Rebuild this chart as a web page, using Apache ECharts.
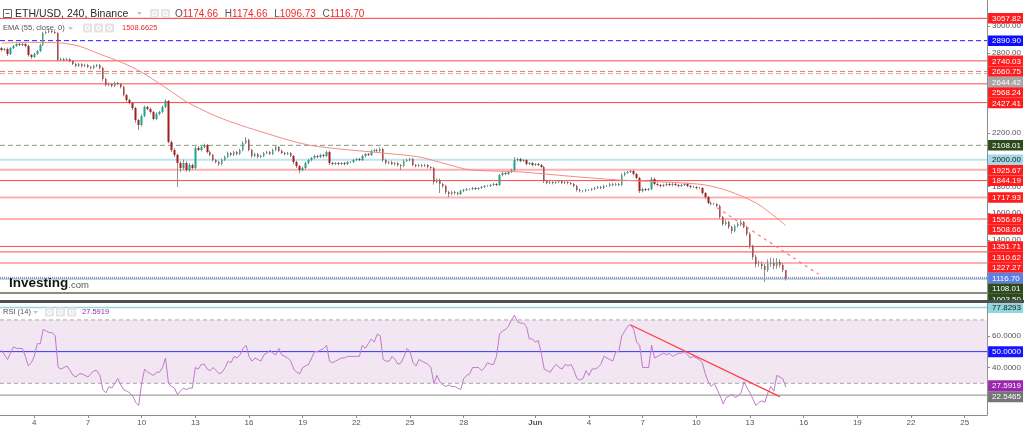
<!DOCTYPE html>
<html><head><meta charset="utf-8">
<script src="https://cdn.jsdelivr.net/npm/echarts@6/dist/echarts.min.js"></script>
<style>html,body{margin:0;padding:0;background:#fff}#c{width:1024px;height:428px}</style>
</head><body><div id="c"></div><script>
// ---------- DATA ----------
const closes = [2821,2828,2791,2836,2851,2866,2858,2866,2851,2784,
 2769,2791,2813,2858,2948,2956,2963,2956,2948,2746,
 2754,2746,2754,2739,2716,2701,2716,2701,2709,2694,
 2686,2701,2709,2686,2604,2559,2567,2552,2574,2567,
 2544,2484,2447,2425,2387,2297,2260,2327,2395,2380,
 2357,2305,2342,2357,2395,2440,2133,2073,2036,1976,
 1938,1976,1923,1961,1938,2088,2073,2095,2110,2058,
 2036,1998,1983,1968,1998,2021,2051,2036,2058,2043,
 2073,2125,2148,2073,2028,2043,2021,2028,2051,2058,
 2043,2073,2095,2066,2051,2043,2051,2028,1983,1953,
 1923,1938,1976,1998,2013,2028,2021,2036,2028,2058,
 1976,1968,1976,1968,1976,1968,1983,1983,1998,2006,
 1998,2028,2043,2036,2066,2073,2066,2081,1998,1976,
 1983,1968,1976,1961,1953,1991,1998,2006,1961,1953,
 1961,1953,1961,1946,1938,1834,1849,1819,1804,1759,
 1744,1759,1751,1744,1766,1774,1781,1781,1789,1781,
 1789,1796,1804,1804,1811,1819,1811,1886,1901,1894,
 1908,1923,1998,2006,1991,1998,1968,1976,1961,1968,
 1961,1946,1841,1826,1834,1826,1834,1841,1826,1834,
 1826,1819,1804,1774,1766,1766,1774,1774,1781,1789,
 1796,1789,1804,1804,1819,1811,1819,1811,1886,1901,
 1908,1916,1894,1864,1766,1781,1774,1781,1856,1819,
 1811,1804,1811,1819,1811,1819,1811,1804,1811,1819,
 1804,1796,1796,1789,1789,1751,1721,1677,1669,1669,
 1654,1572,1519,1534,1497,1467,1504,1519,1534,1497,
 1445,1355,1273,1220,1220,1205,1175,1220,1228,1205,
 1235,1213,1174.66,1116.70];
const firstOpen = 2836;
const upWick = [8,10,12,6,8,10,8,8,6,10,
 8,10,8,10,8,10,14,8,8,6,
 10,8,8,6,8,10,8,6,8,8,
 8,10,8,8,10,8,12,8,10,8,
 8,10,8,10,8,8,8,12,10,8,
 8,10,12,8,10,12,6,10,12,10,
 12,25,12,15,10,12,15,10,10,8,
 10,8,8,10,12,10,10,8,10,8,
 10,12,22,10,8,10,8,10,8,10,
 8,10,12,8,10,8,8,6,8,10,
 8,10,8,10,8,10,8,8,10,10,
 8,8,6,8,6,8,8,6,8,8,
 8,10,8,8,10,8,10,12,8,10,
 8,10,8,8,6,10,10,8,8,8,
 8,6,8,8,6,8,12,10,8,8,
 8,10,8,8,10,8,8,6,8,6,
 6,8,6,8,6,8,8,8,10,10,
 8,10,22,10,8,8,8,8,6,8,
 8,8,8,10,8,6,8,8,6,8,
 6,8,8,8,10,8,8,6,8,8,
 8,8,10,8,8,8,8,8,12,10,
 8,10,8,8,8,10,8,8,15,10,
 10,8,10,8,10,8,8,8,10,8,
 8,8,10,8,8,6,8,8,10,10,
 8,10,8,15,10,10,12,15,15,8,
 10,12,10,15,25,20,15,35,40,35,
 30,20,15,0];
const downWick = [10,8,15,8,8,6,8,8,10,12,
 15,8,8,8,6,8,8,10,8,10,
 8,10,8,10,8,10,8,10,8,8,
 8,8,10,10,15,10,8,10,8,10,
 10,10,12,10,15,20,37,10,8,10,
 12,10,8,10,8,8,10,15,15,180,
 30,15,12,15,12,10,8,10,8,10,
 10,12,10,15,10,8,8,10,8,10,
 8,10,8,10,12,8,10,8,8,10,
 8,8,8,10,8,10,8,8,15,15,
 25,10,8,8,10,8,10,8,10,8,
 15,10,8,10,8,10,8,8,8,8,
 8,8,10,8,8,10,8,8,15,10,
 10,8,10,12,30,8,8,10,10,10,
 8,10,8,10,8,20,10,68,12,15,
 23,10,12,10,8,8,8,10,8,8,
 8,8,8,6,8,8,8,8,10,8,
 8,8,8,10,10,8,10,8,10,8,
 8,10,15,10,8,10,8,10,8,8,
 10,8,10,12,10,10,8,8,8,8,
 8,10,8,8,8,10,8,8,8,10,
 8,8,10,10,15,10,10,8,8,10,
 10,10,8,10,8,10,8,10,8,8,
 10,10,8,10,10,12,15,10,10,8,
 10,15,15,10,15,20,10,10,15,10,
 15,20,20,25,20,25,89,15,20,25,
 20,20,15,19.97];
const rsiValues = [51,48,45,49,53,52,52,52,47,41,
 43,47,55,55,64,63,62,62,60,40,
 39,40,41,38,35,34,36,36,35,34,
 36,38,38,35,26,24,28,27,30,33,
 29,26,25,24,22,18,16,30,39,37,
 36,35,37,37,40,46,30,28,27,23,
 25,27,26,27,27,40,39,42,42,39,
 38,40,38,36,37,40,44,43,47,46,
 48,52,54,47,44,46,45,44,48,49,
 51,49,48,52,48,47,46,44,39,37,
 36,40,41,42,46,50,50,51,52,54,
 44,43,44,45,46,46,47,47,47,47,
 47,54,52,55,58,56,61,60,45,44,
 44,47,45,42,43,47,52,50,43,41,
 45,44,43,42,40,30,35,31,29,28,
 29,28,28,27,26,33,35,36,40,40,
 40,38,40,43,42,42,47,61,63,64,
 66,70,73,69,68,68,66,58,58,56,
 57,49,39,38,37,40,42,40,39,42,
 41,42,38,33,32,33,38,35,39,39,
 40,42,47,46,45,44,50,50,60,63,
 66,67,64,56,54,40,40,40,54,46,
 47,48,49,48,49,47,48,49,49,50,
 48,46,47,46,45,43,36,31,28,30,
 26,22,17,21,22,23,21,22,24,31,
 27,24,20,16,18,19,18,24,28,25,
 35,34,33,27.5919];
const emaIdx = [0,10,20,26,33,40,47,57,62,71,78,87,103,128,140,150,157,174,190,207,227,236,244,253,260,263];
const emaVal = [2873,2878,2873,2850,2790,2731,2655,2510,2435,2335,2275,2210,2110,2050,2021,1963,1925,1909,1878,1849,1828,1811,1765,1677,1564,1508.6625];
const priceLevels = [3057.82,2890.90,2740.03,2660.75,2644.42,2568.24,2427.41,2108.01,2000.00,1925.67,1844.19,1717.93,1556.69,1351.71,1310.62,1227.27,1108.01,1003.50];
const rsiLevels = [77.8293, 50.0000, 22.5465];
const rsiBand = [30, 70];
const priceTicks = [1000,1200,1400,1600,1800,2000,2200,2400,2600,2800,3000];
const rsiTicks = [40, 60];
const tickDates = ['2022-05-04','2022-05-07','2022-05-10','2022-05-13','2022-05-16','2022-05-19','2022-05-22','2022-05-25','2022-05-28','2022-06-01','2022-06-04','2022-06-07','2022-06-10','2022-06-13','2022-06-16','2022-06-19','2022-06-22','2022-06-25'];
const tickTexts = ['4','7','10','13','16','19','22','25','28','Jun','4','7','10','13','16','19','22','25'];
const priceTrend = [[240, 1641], [274, 1143]];
const rsiTrend = [[211, 66.8], [261, 21.6]];

// ---------- STYLES ----------
const FONT = '"Liberation Sans", Arial, sans-serif';
const RBG = '#ff1c1c';
const levelStyles = [
 {line:'#ff3535', w:1, bg:RBG},
 {line:'#2020ff', w:1, dash:[5,3], bg:'#0c0cff'},
 {line:'#ff8585', w:1.5, bg:RBG},
 {line:'#ff6b6b', w:1, dash:[5,3], bg:RBG},
 {line:'#c9a9a9', w:1, dash:[5,3], bg:'#a6a6a6'},
 {line:'#ff8585', w:1.5, bg:RBG},
 {line:'#ff4343', w:1, bg:RBG},
 {line:'#8c9a7b', w:1, dash:[5,3], bg:'#2c4a1c'},
 {line:'#bfe4ee', w:2, bg:'#a3d8e6', fg:'#1a1a1a'},
 {line:'#ffb0b0', w:2, bg:RBG},
 {line:'#ff4a4a', w:1, bg:RBG},
 {line:'#ffb0b0', w:2, bg:RBG},
 {line:'#ffb0b0', w:2, bg:RBG},
 {line:'#ff4a4a', w:1, bg:RBG},
 {line:'#ff4a4a', w:1, bg:RBG},
 {line:'#ffb0b0', w:2, bg:RBG},
 {line:'#9aa98a', w:1, bg:'#2c4a1c'},
 {line:'#5e6e48', w:1.5, bg:'#2c4a1c'}
];
const rsiStyles = [
 {line:'#93d6e1', w:1.5, bg:'#91d5df', fg:'#1a1a1a'},
 {line:'#3030ff', w:1, bg:'#1414ff'},
 {line:'#8a8a8a', w:1, bg:'#757575'}
];

// ---------- DERIVED ----------
const N = closes.length;
const opens = closes.map((c, i) => i === 0 ? firstOpen : closes[i - 1]);
const highs = closes.map((c, i) => Math.max(opens[i], c) + upWick[i]);
const lows = closes.map((c, i) => Math.min(opens[i], c) - downWick[i]);
const wickData = closes.map((c, i) => [opens[i], c, lows[i], highs[i]]);
const bodyData = closes.map((c, i) => [opens[i], c, Math.min(opens[i], c), Math.max(opens[i], c)]);
const emaData = emaIdx.map((ix, k) => [ix, emaVal[k]]);
const emaLast = emaVal[emaVal.length - 1];
const rsiLast = rsiValues[rsiValues.length - 1];

const startUTC = Date.UTC(2022, 4, 2, 4);
const slotCount = 331;
const categories = Array.from({length: slotCount}, (_, k) => new Date(startUTC + k * 4 * 3600e3).toISOString().slice(0, 13));
const tickMap = new Map(tickDates.map((d, k) => [d + 'T00', tickTexts[k]]));

const mainItems = priceLevels.map((v, k) => ({v, s: levelStyles[k]}))
  .concat([{v: emaLast, s: {bg: RBG}}, {v: closes[N - 1], s: {line: '#7d98e8', w: 2, dash: [1, 1], bg: '#5b7fe3'}}]);
const rsiItems = rsiLevels.map((v, k) => ({v, s: rsiStyles[k]}))
  .concat([{v: rsiLast, s: {bg: '#9b27b0'}}]);

function layoutLabels(ys, gap, mode) {
  const order = ys.map((y, i) => i).sort((a, b) => ys[a] - ys[b]);
  const pos = ys.slice();
  if (mode === 'down') {
    let last = -Infinity;
    order.forEach(i => { const p = Math.max(ys[i], last + gap); pos[i] = p; last = p; });
  } else {
    for (let it = 0; it < 30; it++) {
      for (let k = 1; k < order.length; k++) {
        const a = order[k - 1], b = order[k];
        const d = pos[b] - pos[a];
        if (d < gap) { const m = (gap - d) / 2; pos[a] -= m; pos[b] += m; }
      }
    }
  }
  return pos;
}

function levelSeries(items, axisIdx, gap, mode, decimals) {
  return {
    type: 'custom', xAxisIndex: axisIdx, yAxisIndex: axisIdx, clip: false, silent: true, z: 1,
    data: items.map(it => [0, it.v]),
    renderItem(params, api) {
      const cs = params.coordSys;
      const ys = items.map(it => api.coord([0, it.v])[1]);
      const pos = layoutLabels(ys, gap, mode);
      const i = params.dataIndex, it = items[i], y = ys[i], ly = pos[i];
      const right = cs.x + cs.width;
      const children = [];
      if (it.s.line) children.push({type: 'line', shape: {x1: cs.x, y1: y, x2: right, y2: y},
        style: {stroke: it.s.line, lineWidth: it.s.w || 1, lineDash: it.s.dash || null}});
      children.push({type: 'group',
        clipPath: {type: 'rect', shape: {x: right, y: cs.y, width: 1024 - right, height: cs.height}},
        children: [
          {type: 'rect', shape: {x: right + 1, y: ly - gap / 2, width: 1023 - right - 1, height: gap}, style: {fill: it.s.bg}},
          {type: 'text', style: {x: right + 5, y: ly + 0.5, text: it.v.toFixed(decimals), fill: it.s.fg || '#fff',
            fontSize: 8, fontFamily: FONT, align: 'left', verticalAlign: 'middle', textAlign: 'left', textVerticalAlign: 'middle'}}
        ]});
      return {type: 'group', children};
    }
  };
}

function icons(x0, y0, n) {
  const out = [];
  for (let k = 0; k < n; k++) {
    const x = x0 + k * 11;
    out.push({type: 'rect', shape: {x, y: y0, width: 9, height: 9, r: 1}, style: {fill: '#e4e4e4'}, z: 100});
    out.push({type: 'circle', shape: {cx: x + 4.5, cy: y0 + 4.5, r: 2}, style: {fill: 'none', stroke: '#fff', lineWidth: 1.2}, z: 101});
  }
  return out;
}
function caret(x, y) {
  return {type: 'polygon', shape: {points: [[x, y], [x + 5, y], [x + 2.5, y + 3]]}, style: {fill: '#c4c4c4'}, z: 100};
}

const chart = echarts.init(document.getElementById('c'), null, {renderer: 'canvas'});
const axisGray = '#8c8c8c';
chart.setOption({
  animation: false,
  backgroundColor: '#ffffff',
  grid: [
    {left: 0, right: 36, top: 0, height: 300},
    {left: 0, right: 36, top: 303, height: 112}
  ],
  xAxis: [
    {type: 'category', gridIndex: 0, data: categories, show: false, boundaryGap: true},
    {type: 'category', gridIndex: 1, data: categories, boundaryGap: true,
      axisLine: {show: true, lineStyle: {color: axisGray}},
      axisTick: {show: true, alignWithLabel: true, length: 3, interval: (i, v) => tickMap.has(v), lineStyle: {color: axisGray}},
      axisLabel: {interval: (i, v) => tickMap.has(v), margin: 4, fontSize: 8, color: '#555', fontFamily: FONT,
        formatter: v => { const t = tickMap.get(v) || ''; return t === 'Jun' ? '{m|Jun}' : t; },
        rich: {m: {fontWeight: 'bold', fontSize: 8, color: '#555', fontFamily: FONT}}},
      splitLine: {show: false}}
  ],
  yAxis: [
    {type: 'value', gridIndex: 0, position: 'right', min: 951, max: 3195,
      axisLine: {show: true, lineStyle: {color: axisGray}},
      axisTick: {show: true, length: 3, customValues: priceTicks, lineStyle: {color: axisGray}},
      axisLabel: {customValues: priceTicks, formatter: v => v.toFixed(2), fontSize: 8, color: '#555', margin: 5, fontFamily: FONT},
      splitLine: {show: false}},
    {type: 'value', gridIndex: 1, position: 'right', min: 10, max: 80.7,
      axisLine: {show: true, lineStyle: {color: axisGray}},
      axisTick: {show: true, length: 3, customValues: rsiTicks, lineStyle: {color: axisGray}},
      axisLabel: {customValues: rsiTicks, formatter: v => v.toFixed(4), fontSize: 8, color: '#555', margin: 5, fontFamily: FONT},
      splitLine: {show: false}}
  ],
  series: [
    levelSeries(mainItems, 0, 10.5, 'down', 2),
    {type: 'candlestick', xAxisIndex: 0, yAxisIndex: 0, data: wickData, barWidth: 1, silent: true,
      itemStyle: {color: '#8f8f8f', color0: '#8f8f8f', borderColor: '#8f8f8f', borderColor0: '#8f8f8f', borderWidth: 1}},
    {type: 'candlestick', xAxisIndex: 0, yAxisIndex: 0, data: bodyData, barWidth: 2, silent: true,
      itemStyle: {color: '#23a38b', color0: '#a51d1d', borderColor: '#23a38b', borderColor0: '#a51d1d', borderWidth: 0}},
    {type: 'line', xAxisIndex: 0, yAxisIndex: 0, data: emaData, showSymbol: false, smooth: 0.3, silent: true,
      lineStyle: {color: '#f58a8a', width: 1},
      markLine: {silent: true, symbol: 'none', label: {show: false},
        data: [[{coord: priceTrend[0]}, {coord: priceTrend[1]}]],
        lineStyle: {color: '#ff7474', width: 1.2, type: [3, 4]}}},
    {type: 'custom', xAxisIndex: 1, yAxisIndex: 1, silent: true, z: 1, clip: false, data: [[0, 50]],
      renderItem(params, api) {
        const cs = params.coordSys;
        const yTop = api.coord([0, rsiBand[1]])[1], yBot = api.coord([0, rsiBand[0]])[1];
        return {type: 'group', children: [
          {type: 'rect', shape: {x: cs.x, y: yTop, width: cs.width, height: yBot - yTop}, style: {fill: '#f3e6f3'}},
          {type: 'line', shape: {x1: cs.x, y1: yTop, x2: cs.x + cs.width, y2: yTop}, style: {stroke: '#a8a8a8', lineWidth: 1, lineDash: [4, 3]}},
          {type: 'line', shape: {x1: cs.x, y1: yBot, x2: cs.x + cs.width, y2: yBot}, style: {stroke: '#a8a8a8', lineWidth: 1, lineDash: [4, 3]}}
        ]};
      }},
    levelSeries(rsiItems, 1, 11, 'spread', 4),
    {type: 'line', xAxisIndex: 1, yAxisIndex: 1, data: rsiValues, showSymbol: false, silent: true,
      lineStyle: {color: '#c079cb', width: 1},
      markLine: {silent: true, symbol: 'none', label: {show: false},
        data: [[{coord: rsiTrend[0]}, {coord: rsiTrend[1]}]],
        lineStyle: {color: '#ff3b3b', width: 1.2, type: 'solid'}}}
  ],
  graphic: [
    {type: 'rect', shape: {x: 0, y: 300, width: 1024, height: 3}, style: {fill: '#4f4f4f'}, z: 100},
    {type: 'rect', shape: {x: 3.5, y: 9.5, width: 8, height: 8}, style: {fill: '#fff', stroke: '#666', lineWidth: 1}, z: 100},
    {type: 'line', shape: {x1: 5.5, y1: 13.5, x2: 9.5, y2: 13.5}, style: {stroke: '#666', lineWidth: 1}, z: 101},
    {type: 'text', x: 15, y: 14, z: 100, style: {text: 'ETH/USD, 240, Binance', fontSize: 10.5, fontFamily: FONT, fill: '#2b2b2b', verticalAlign: 'middle', textVerticalAlign: 'middle'}},
    caret(137, 12),
    ...icons(150, 9, 2),
    {type: 'text', x: 175, y: 14, z: 100, style: {
      text: `{l|O}{v|${opens[N-1].toFixed(2)}}  {l|H}{v|${highs[N-1].toFixed(2)}}  {l|L}{v|${lows[N-1].toFixed(2)}}  {l|C}{v|${closes[N-1].toFixed(2)}}`,
      verticalAlign: 'middle', textVerticalAlign: 'middle',
      rich: {l: {fill: '#555', fontSize: 10, fontFamily: FONT}, v: {fill: '#ee2b2b', fontSize: 10, fontFamily: FONT}}}},
    {type: 'text', x: 3, y: 28, z: 100, style: {text: 'EMA (55, close, 0)', fontSize: 7.5, fontFamily: FONT, fill: '#555', verticalAlign: 'middle', textVerticalAlign: 'middle'}},
    caret(68, 27),
    ...icons(83, 23.5, 3),
    {type: 'text', x: 122, y: 28, z: 100, style: {text: emaLast.toFixed(4), fontSize: 7.5, fontFamily: FONT, fill: '#ee2b2b', verticalAlign: 'middle', textVerticalAlign: 'middle'}},
    {type: 'text', x: 3, y: 312, z: 100, style: {text: 'RSI (14)', fontSize: 7.5, fontFamily: FONT, fill: '#555', verticalAlign: 'middle', textVerticalAlign: 'middle'}},
    caret(33, 311),
    ...icons(45, 307.5, 3),
    {type: 'text', x: 82, y: 312, z: 100, style: {text: rsiLast.toFixed(4), fontSize: 7.5, fontFamily: FONT, fill: '#9b27b0', verticalAlign: 'middle', textVerticalAlign: 'middle'}},
    {type: 'text', x: 9, y: 290, z: 100, style: {text: '{a|Investing}{b|.com}', verticalAlign: 'bottom', textVerticalAlign: 'bottom',
      rich: {a: {fontSize: 13.5, fontWeight: 'bold', fontFamily: FONT, fill: '#151515', verticalAlign: 'bottom'},
             b: {fontSize: 9.5, fontFamily: FONT, fill: '#555', verticalAlign: 'bottom'}}}}
  ]
});
</script></body></html>
